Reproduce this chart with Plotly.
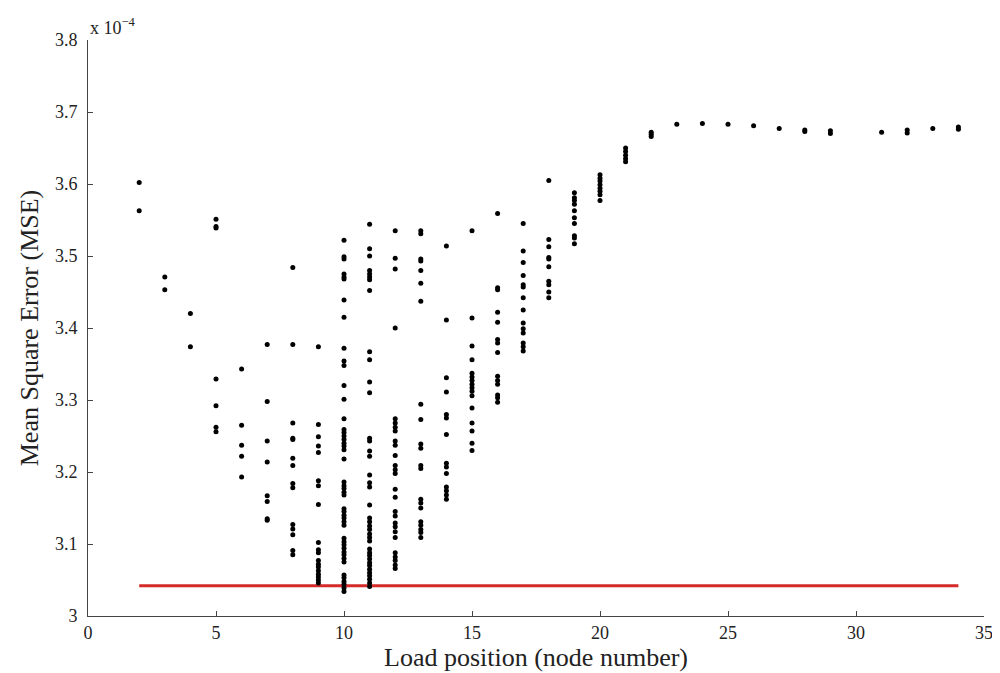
import plotly.graph_objects as go

# MSE values (x 1e-4) per load position (node number)
node2 = [3.602, 3.563]
node3 = [3.471, 3.453]
node4 = [3.420, 3.374]
node5 = [3.551, 3.541, 3.539, 3.329, 3.292, 3.262, 3.256]
node6 = [3.343, 3.265, 3.237, 3.222, 3.193]
node7 = [3.377, 3.298, 3.243, 3.214, 3.167, 3.159, 3.135, 3.133]
node8 = [3.484, 3.377, 3.268, 3.247, 3.245, 3.219, 3.209, 3.184, 3.178, 3.127,
         3.121, 3.113, 3.091, 3.085]
node9 = [3.374, 3.266, 3.249, 3.236, 3.227, 3.188, 3.181, 3.155, 3.102, 3.092,
         3.088, 3.077, 3.072, 3.068, 3.063, 3.058, 3.054, 3.050, 3.046]
node10 = [3.522, 3.499, 3.496, 3.475, 3.471, 3.468, 3.439, 3.415, 3.372, 3.354,
          3.348, 3.320, 3.301, 3.274, 3.259, 3.255, 3.250, 3.245, 3.240, 3.236,
          3.231, 3.218, 3.186, 3.181, 3.177, 3.172, 3.168, 3.149, 3.145, 3.140,
          3.136, 3.131, 3.126, 3.108, 3.103, 3.099, 3.094, 3.089, 3.085, 3.080,
          3.075, 3.057, 3.053, 3.048, 3.044, 3.039, 3.034]
node11 = [3.544, 3.510, 3.500, 3.480, 3.475, 3.471, 3.467, 3.452, 3.367, 3.356,
          3.325, 3.310, 3.247, 3.243, 3.229, 3.222, 3.196, 3.185, 3.179, 3.154,
          3.136, 3.131, 3.125, 3.120, 3.114, 3.109, 3.104, 3.093, 3.088, 3.084,
          3.079, 3.074, 3.070, 3.065, 3.060, 3.056, 3.051, 3.046, 3.041]
node12 = [3.535, 3.497, 3.482, 3.400, 3.274, 3.268, 3.262, 3.257, 3.243, 3.237,
          3.223, 3.209, 3.203, 3.198, 3.176, 3.165, 3.145, 3.139, 3.129, 3.124,
          3.117, 3.109, 3.088, 3.082, 3.077, 3.071, 3.066]
node13 = [3.535, 3.531, 3.496, 3.493, 3.480, 3.462, 3.437, 3.294, 3.273, 3.239,
          3.233, 3.209, 3.205, 3.162, 3.157, 3.150, 3.131, 3.126, 3.120, 3.116,
          3.109]
node14 = [3.514, 3.411, 3.331, 3.311, 3.280, 3.275, 3.252, 3.212, 3.207, 3.198,
          3.179, 3.174, 3.168, 3.162]
node15 = [3.535, 3.414, 3.375, 3.356, 3.337, 3.332, 3.327, 3.322, 3.317, 3.312,
          3.306, 3.289, 3.268, 3.257, 3.240, 3.230]
node16 = [3.559, 3.456, 3.453, 3.422, 3.408, 3.384, 3.379, 3.366, 3.333, 3.327,
          3.322, 3.307, 3.303, 3.297]
node17 = [3.545, 3.507, 3.491, 3.473, 3.460, 3.457, 3.442, 3.425, 3.407, 3.399,
          3.393, 3.379, 3.374, 3.368]
node18 = [3.605, 3.523, 3.513, 3.498, 3.496, 3.485, 3.465, 3.460, 3.450, 3.442]
node19 = [3.588, 3.581, 3.577, 3.572, 3.563, 3.553, 3.545, 3.528, 3.525, 3.517]
node20 = [3.613, 3.608, 3.604, 3.599, 3.594, 3.590, 3.585, 3.577]
node21 = [3.650, 3.645, 3.640, 3.635, 3.631]
node22 = [3.672, 3.669, 3.666]
node23 = [3.683]
node24 = [3.684]
node25 = [3.683]
node26 = [3.681]
node27 = [3.677]
node28 = [3.675, 3.673]
node29 = [3.674, 3.670]
node31 = [3.672]
node32 = [3.675, 3.671]
node33 = [3.677]
node34 = [3.679, 3.676]

nodes = [2, 3, 4, 5, 6, 7, 8, 9, 10, 11, 12, 13, 14, 15, 16, 17, 18, 19, 20,
         21, 22, 23, 24, 25, 26, 27, 28, 29, 31, 32, 33, 34]
columns = [node2, node3, node4, node5, node6, node7, node8, node9, node10,
           node11, node12, node13, node14, node15, node16, node17, node18,
           node19, node20, node21, node22, node23, node24, node25, node26,
           node27, node28, node29, node31, node32, node33, node34]

# Red reference line (minimum MSE level)
ref_x = [2, 34]
ref_y = [3.042, 3.042]

x_ticks = [0, 5, 10, 15, 20, 25, 30, 35]
y_ticks = [3.0, 3.1, 3.2, 3.3, 3.4, 3.5, 3.6, 3.7, 3.8]
y_ticktext = ["3", "3.1", "3.2", "3.3", "3.4", "3.5", "3.6", "3.7", "3.8"]

xs, ys = [], []
for n, col in zip(nodes, columns):
    xs.extend([n] * len(col))
    ys.extend(col)

fig = go.Figure()
fig.add_trace(go.Scatter(
    x=ref_x, y=ref_y, mode="lines",
    line=dict(color="#d42a2a", width=3), showlegend=False, hoverinfo="skip"))
fig.add_trace(go.Scatter(
    x=xs, y=ys, mode="markers",
    marker=dict(color="black", size=5, line=dict(width=0)),
    showlegend=False))

font_family = "Liberation Serif, Times New Roman, serif"
axis_common = dict(
    showgrid=False, zeroline=False, showline=True, linecolor="#444",
    linewidth=1, ticks="inside", ticklen=5, tickcolor="#444",
    automargin=False,
    tickfont=dict(family=font_family, size=18, color="#222"),
)

# page body has an 8px default margin, so the figure is sized to fit inside it
fig.update_layout(
    width=992, height=665,
    margin=dict(l=80, r=16, t=32, b=57),
    paper_bgcolor="white", plot_bgcolor="white",
    font=dict(family=font_family, color="#222"),
    xaxis=dict(range=[0, 35], tickvals=x_ticks, **axis_common,
               title=dict(text="Load position (node number)",
                          font=dict(family=font_family, size=26, color="#222"),
                          standoff=5)),
    yaxis=dict(range=[3.0, 3.8], tickvals=y_ticks, ticktext=y_ticktext,
               ticklabelstandoff=6, **axis_common,
               title=dict(text="Mean Square Error (MSE)",
                          font=dict(family=font_family, size=26, color="#222"),
                          standoff=8)),
    annotations=[dict(
        text="x 10<sup>\u22124</sup>", xref="paper", yref="paper",
        x=0, y=1, xanchor="left", yanchor="bottom", showarrow=False,
        font=dict(family=font_family, size=18, color="#222"), yshift=0)],
)

fig.write_html("out.html")
